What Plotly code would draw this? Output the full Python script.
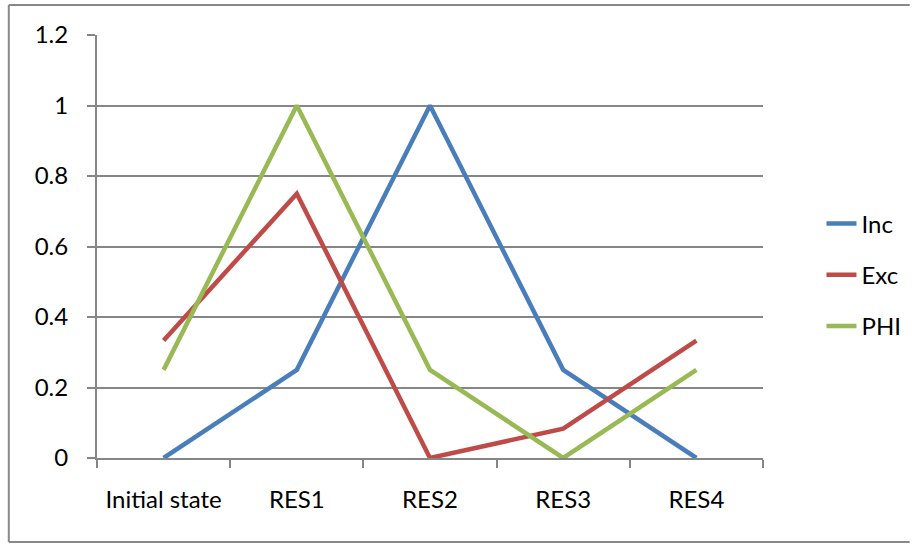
import plotly.graph_objects as go

categories = ["Initial state", "RES1", "RES2", "RES3", "RES4"]
inc = [0, 0.25, 1, 0.25, 0]
exc = [0.3333, 0.75, 0, 0.0833, 0.3333]
phi = [0.25, 1, 0.25, 0, 0.25]

series = [("Inc", inc, "#4a7ebb"), ("Exc", exc, "#be4b48"), ("PHI", phi, "#98b954")]

W, H = 919, 544
L, R, T, B = 97, 150, 35, 86
pw, ph = W - L - R, H - T - B

fig = go.Figure()
for name, vals, col in series:
    fig.add_trace(go.Scatter(x=categories, y=vals, name=name, mode="lines",
                             line=dict(color=col, width=4.5), legendgroup=name))

font = dict(family="Lato, Open Sans, sans-serif", size=24, color="#000000")
fig.update_layout(
    width=W, height=H,
    margin=dict(l=L, r=R, t=T, b=B),
    paper_bgcolor="white", plot_bgcolor="white",
    font=font,
    showlegend=True,
    legend=dict(x=(828 - L) / pw, y=(H - B - 275) / ph, xanchor="left", yanchor="middle",
                tracegroupgap=17, font=font, itemwidth=30, bgcolor="rgba(0,0,0,0)"),
    xaxis=dict(type="category", range=[-0.5, 4.5], tickson="boundaries",
               ticks="outside", ticklen=8, tickcolor="#868686", tickwidth=2,
               showline=True, linecolor="#868686", linewidth=2,
               showgrid=False, zeroline=False, ticklabelstandoff=19),
    yaxis=dict(range=[0, 1.2], dtick=0.2, tick0=0, ticks="outside", ticklen=8,
               tickcolor="#868686", tickwidth=2, tickformat="~g",
               showline=True, linecolor="#868686", linewidth=2,
               showgrid=True, gridcolor="#868686", gridwidth=1.5,
               zeroline=False, ticklabelstandoff=14),
)
# outer frame (left, top, bottom edges; right edge lies beyond the window)
def px(x):
    return (x - L) / pw
def py(y):
    return (H - B - y) / ph
frame = dict(color="#888888", width=2)
fig.add_shape(type="line", xref="paper", yref="paper", x0=px(8), x1=px(8), y0=py(5), y1=py(542), line=frame, layer="below")
fig.add_shape(type="line", xref="paper", yref="paper", x0=px(8), x1=px(W - 2), y0=py(5), y1=py(5), line=frame, layer="below")
fig.add_shape(type="line", xref="paper", yref="paper", x0=px(8), x1=px(W - 2), y0=py(542), y1=py(542), line=frame, layer="below")
fig.write_html("out.html", config={"displayModeBar": False},
               post_script="document.documentElement.style.overflow='hidden';document.body.style.margin='0px';document.body.style.overflow='hidden';")
